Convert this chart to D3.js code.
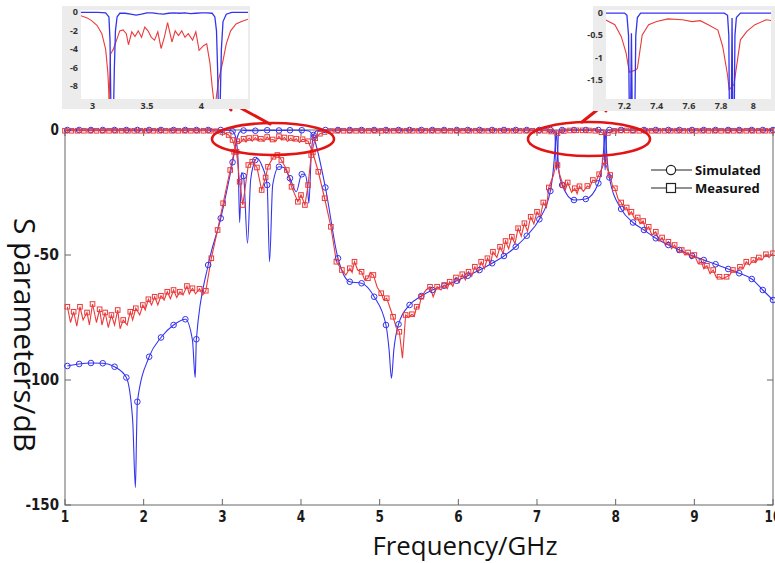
<!DOCTYPE html>
<html>
<head>
<meta charset="utf-8">
<script src="https://cdn.jsdelivr.net/npm/d3@7"></script>
<style>
  body { margin: 0; background: #fff; }
  svg { display: block; }
</style>
</head>
<body>
<script>
// ---- data: [frequency GHz, dB] ----
const xTicks = [1, 2, 3, 4, 5, 6, 7, 8, 9, 10];
const yTicks = [0, -50, -100, -150];

// simulated S11 (blue) – circle markers
const s11SimMarks = [
  [1.03,0],[1.18,0],[1.33,0],[1.48,0],[1.63,0],[1.78,0],[1.92,0],[2.07,0],[2.22,0],[2.38,0],
  [2.53,0],[2.67,0],[2.82,0],[2.98,0],[3.13,-0.5],[3.27,-18.4],[3.42,-12],[3.57,-22],[3.72,-14.7],[3.86,-19.3],
  [4.01,-17.7],[4.16,-2],[4.31,0],[4.47,0],[4.62,0],[4.77,0],[4.93,0],[5.08,0],[5.24,0],[5.38,0],
  [5.53,0],[5.67,0],[5.82,0],[5.98,0],[6.12,0],[6.27,0],[6.43,0],[6.58,0],[6.73,0],[6.87,0],
  [7.03,0],[7.17,0],[7.32,0],[7.47,0],[7.62,0],[7.78,0],[7.92,0],[8.07,0],[8.22,0],[8.36,0],
  [8.51,0],[8.67,0],[8.81,0],[8.97,0],[9.12,0],[9.27,0],[9.43,0],[9.57,0],[9.73,0],[9.87,0],[10,0]
];
const s11SimExtra = [
  [3.08,-0.1],[3.17,-3],[3.20,-12],[3.22,-37],[3.245,-17],[3.32,-45.3],[3.36,-20],[3.44,-11.3],[3.50,-14],
  [3.60,-52.7],[3.64,-22],[3.78,-15],[3.94,-24.7],[4.05,-17.7],[4.08,-22],[4.10,-29.3],[4.13,-10],[4.20,-0.3],
  [7.215,-0.1],[7.228,-1],[7.235,-8],[7.25,-16],[7.265,-8],[7.272,-1],[7.285,-0.1],
  [7.835,-0.1],[7.848,-1],[7.855,-8],[7.866,-16],[7.877,-8],[7.884,-1],[7.895,-0.1]
];

// simulated S21 (blue) – circle markers
const s21SimMarks = [
  [1.03,-94.4],[1.18,-93.6],[1.33,-93.2],[1.48,-93.3],[1.63,-94.7],[1.78,-99],[1.92,-108.7],[2.07,-90.7],[2.22,-83],[2.38,-78],
  [2.53,-75.7],[2.67,-83.7],[2.82,-54],[2.98,-35.3],[3.13,-12.9],[3.27,-0.2],[3.42,-0.3],[3.57,-0.1],[3.72,-0.2],[3.86,-0.1],
  [4.01,-0.1],[4.16,-3],[4.31,-23],[4.47,-51.3],[4.62,-60.7],[4.77,-61.3],[4.93,-66.7],[5.08,-78],[5.24,-77.7],[5.38,-70],
  [5.53,-66.4],[5.67,-64],[5.82,-62.3],[5.98,-60.3],[6.12,-58.3],[6.27,-56],[6.43,-53.3],[6.58,-50.4],[6.73,-46.7],[6.87,-42.3],
  [7.03,-35.7],[7.17,-24.4],[7.32,-22],[7.47,-28],[7.62,-27.6],[7.78,-21.3],[7.92,-19],[8.07,-31.6],[8.22,-37],[8.36,-40],
  [8.51,-43.3],[8.67,-46],[8.81,-48],[8.97,-50.3],[9.12,-52],[9.27,-53.7],[9.43,-55.6],[9.57,-57.3],[9.73,-59.6],[9.87,-64],[10,-68]
];
const s21SimExtra = [
  [1.86,-116],[1.895,-143],[1.91,-121],[2.62,-84],[2.655,-99],[3.19,-3],[3.22,-0.8],[4.10,-0.4],[4.13,-1.2],
  [5.12,-88],[5.15,-99.3],[5.18,-88],
  [7.21,-15],[7.235,-5],[7.245,-0.3],[7.255,-5],[7.28,-17],
  [7.835,-12],[7.857,-4],[7.866,-0.1],[7.875,-4],[7.895,-13]
];

// measured S11 (red) – square markers
const s11MeasMarks = [
  [1.00,-0.3],[1.08,-0.3],[1.16,-0.3],[1.24,-0.3],[1.32,-0.3],[1.40,-0.3],[1.48,-0.3],[1.56,-0.3],[1.64,-0.3],[1.72,-0.3],
  [1.80,-0.3],[1.88,-0.3],[1.96,-0.3],[2.04,-0.3],[2.12,-0.3],[2.20,-0.3],[2.28,-0.3],[2.36,-0.3],[2.44,-0.3],[2.52,-0.3],
  [2.60,-0.3],[2.68,-0.3],[2.76,-0.3],[2.84,-0.3],[2.92,-0.5],[3.00,-0.8],[3.08,-2],[3.13,-4],[3.18,-8.7],[3.22,-20.7],
  [3.26,-30],[3.33,-14],[3.38,-12.7],[3.44,-15],[3.50,-24],[3.55,-19],[3.58,-14.7],[3.65,-10.7],[3.70,-10],[3.75,-12],
  [3.82,-16],[3.88,-22.7],[3.96,-28.7],[4.00,-26],[4.05,-30],[4.09,-22],[4.13,-10],[4.18,-3.3],[4.24,-1.5],[4.30,-0.8],
  [4.38,-0.4],[4.46,-0.3],[4.54,-0.3],[4.62,-0.3],[4.70,-0.3],[4.78,-0.3],[4.86,-0.3],[4.94,-0.3],[5.02,-0.3],[5.10,-0.3],
  [5.18,-0.3],[5.26,-0.3],[5.34,-0.3],[5.42,-0.3],[5.50,-0.3],[5.58,-0.3],[5.66,-0.3],[5.74,-0.3],[5.82,-0.3],[5.90,-0.3],
  [5.98,-0.3],[6.06,-0.3],[6.14,-0.3],[6.22,-0.3],[6.30,-0.3],[6.38,-0.3],[6.46,-0.3],[6.54,-0.3],[6.62,-0.3],[6.70,-0.3],
  [6.78,-0.3],[6.86,-0.3],[6.94,-0.3],[7.02,-0.3],[7.10,-0.3],[7.18,-0.6],[7.26,-1.3],[7.34,-0.4],[7.42,-0.2],[7.50,-0.15],
  [7.58,-0.15],[7.66,-0.2],[7.74,-0.3],[7.82,-0.9],[7.90,-1.2],[7.98,-0.35],[8.06,-0.2],[8.14,-0.2],[8.22,-0.3],[8.30,-0.3],
  [8.38,-0.3],[8.46,-0.3],[8.54,-0.3],[8.62,-0.3],[8.70,-0.3],[8.78,-0.3],[8.86,-0.3],[8.94,-0.3],[9.02,-0.3],[9.10,-0.3],
  [9.18,-0.3],[9.26,-0.3],[9.34,-0.3],[9.42,-0.3],[9.50,-0.3],[9.58,-0.3],[9.66,-0.3],[9.74,-0.3],[9.82,-0.3],[9.90,-0.3],[9.98,-0.3]
];
const s11MeasExtra = [[7.85,-1.7]];

// measured S21 (red) – square markers
const s21MeasMarks = [
  [1.03,-70.7],[1.11,-72.7],[1.19,-70.7],[1.28,-73],[1.35,-69.6],[1.44,-71.7],[1.51,-73],[1.59,-74],[1.67,-72],[1.74,-76],
  [1.83,-72.7],[1.90,-71.3],[1.99,-70],[2.06,-67.7],[2.14,-66.7],[2.22,-66.3],[2.30,-64.7],[2.38,-64],[2.46,-64.7],[2.55,-62.4],
  [2.62,-63.3],[2.71,-63.5],[2.79,-64.3],[2.86,-51.3],[2.94,-40],[3.01,-29.3],[3.10,-16],[3.15,-8.7],[3.19,-4.5],[3.27,-3.5],
  [3.34,-3.2],[3.42,-3],[3.49,-3.5],[3.57,-2.8],[3.64,-3.8],[3.72,-2.5],[3.79,-3],[3.87,-3.2],[3.94,-3.5],[4.02,-3.7],
  [4.09,-4.5],[4.15,-9],[4.22,-16.7],[4.30,-27.3],[4.38,-38.7],[4.45,-52.7],[4.52,-56],[4.62,-55.3],[4.68,-52.7],[4.77,-56.7],
  [4.85,-59.3],[4.92,-58],[5.02,-65.3],[5.09,-67.3],[5.17,-74.7],[5.25,-80.7],[5.33,-74],[5.41,-73.7],[5.47,-70.7],[5.53,-66.7],
  [5.64,-62.7],[5.73,-62.7],[5.82,-62],[5.89,-60.7],[5.97,-59],[6.05,-57.7],[6.13,-56.7],[6.21,-54.7],[6.29,-52.7],[6.37,-51.3],
  [6.44,-48.7],[6.53,-46.7],[6.60,-44.4],[6.68,-42.7],[6.76,-39.3],[6.84,-37.3],[6.92,-34.7],[7.00,-32.7],[7.08,-29],[7.15,-23],
  [7.26,-14],[7.33,-22],[7.39,-21],[7.48,-23.3],[7.54,-22.5],[7.64,-22.4],[7.71,-20],[7.79,-17.7],[7.86,-12.5],[7.93,-18],
  [7.99,-23.3],[8.07,-29],[8.14,-31],[8.20,-32.7],[8.28,-35],[8.35,-36.4],[8.42,-38.7],[8.51,-40.7],[8.59,-43],[8.67,-44.7],
  [8.75,-46],[8.84,-48],[8.92,-49],[9.00,-50],[9.09,-52.7],[9.16,-54.3],[9.24,-56],[9.32,-58.7],[9.41,-58.7],[9.49,-56],
  [9.58,-54.7],[9.66,-52.7],[9.75,-52],[9.82,-51],[9.91,-49.7],[10,-49.3]
];
const s21MeasExtra = [
  [1.07,-77],[1.15,-78.5],[1.23,-76],[1.31,-78],[1.40,-77],[1.47,-78],[1.55,-79],[1.63,-78],[1.70,-79.5],[1.79,-78],
  [1.86,-76],[1.95,-74],[2.02,-72],[2.10,-70],[2.18,-70],[2.26,-68],[2.34,-67.5],[2.42,-67],[2.50,-66],[2.58,-65.5],
  [2.66,-65.5],[2.75,-66],[3.23,-5],[3.30,-4.8],[3.38,-4.5],[3.45,-4.2],[3.53,-4.6],[3.60,-4],[3.68,-4.5],[3.75,-4],
  [3.83,-4.6],[3.90,-4.4],[3.98,-5],[4.57,-58],[4.65,-57],[4.72,-56],[4.81,-60],[4.88,-57],[4.97,-63],[5.05,-68],
  [5.13,-71],[5.21,-79],[5.29,-91.3],[5.37,-75],[5.44,-74.5],[5.50,-71],[5.59,-64],[5.68,-66.7],[5.78,-64],[5.86,-63.5],
  [5.93,-62.5],[6.01,-61],[6.09,-60],[6.17,-58.5],[6.25,-57],[6.33,-55.5],[6.41,-53.5],[6.49,-51],[6.57,-49.5],[6.64,-47.5],
  [6.72,-45.5],[6.80,-42.5],[6.88,-40.5],[6.96,-37.5],[7.04,-35],[7.12,-31],[7.21,-18],[7.25,-12.5],[7.29,-18],[7.36,-24],
  [7.44,-25],[7.51,-25.5],[7.59,-24.5],[7.67,-23],[7.75,-20.5],[7.83,-15],[7.90,-16],[7.96,-22.5],[8.03,-27.5],[8.11,-31.5],
  [8.17,-34],[8.24,-35.5],[8.31,-37.5],[8.38,-40],[8.46,-42],[8.55,-44.5],[8.63,-46],[8.71,-47.5],[8.79,-49],[8.88,-50],
  [8.96,-51.5],[9.05,-53.5],[9.12,-55.5],[9.20,-57.5],[9.28,-59],[9.36,-59.5],[9.45,-58],[9.53,-57],[9.62,-55.5],[9.70,-54],
  [9.78,-53],[9.86,-52],[9.95,-51]
];

// zoom inset 1 (passband 2.9 - 4.4 GHz)
const in1XTicks = [3, 3.5, 4];
const in1YTicks = [0, -2, -4, -6, -8];
const in1SimS11 = [[2.89,0],[3.05,0],[3.12,-0.05],[3.15,-0.5],[3.16,-3],[3.17,-12],[4.17,-12],[4.185,-4],[4.2,-1],[4.23,-0.2],[4.28,0],[4.43,0]];
const in1SimS21 = [
  [3.19,-12],[3.20,-6],[3.21,-2],[3.225,-0.5],[3.25,-0.1],[3.30,-0.1],[3.35,-0.2],[3.40,-0.3],[3.45,-0.2],[3.50,-0.05],
  [3.55,-0.05],[3.60,-0.15],[3.65,-0.2],[3.70,-0.1],[3.75,-0.05],[3.80,-0.1],[3.85,-0.05],[3.90,-0.15],[3.95,-0.1],[4.00,-0.05],
  [4.05,-0.05],[4.10,-0.1],[4.125,-0.5],[4.14,-2],[4.15,-6],[4.16,-12]
];
const in1MeasS11 = [
  [2.89,-0.36],[2.95,-0.6],[2.99,-0.9],[3.04,-1.4],[3.085,-2.3],[3.12,-4],[3.14,-6.5],[3.155,-10],
  [4.13,-10],[4.14,-9],[4.16,-7.3],[4.20,-5.2],[4.23,-3.4],[4.27,-2],[4.32,-1.25],[4.37,-1],[4.43,-0.75]
];
const in1MeasS21 = [
  [3.15,-10],[3.165,-4.5],[3.19,-4],[3.22,-3],[3.25,-2],[3.28,-1.9],[3.31,-2.3],[3.33,-3.5],[3.36,-2.1],[3.39,-2.6],
  [3.42,-2],[3.45,-2.7],[3.48,-1.6],[3.51,-2],[3.54,-2.7],[3.57,-3],[3.60,-2.1],[3.63,-3.9],[3.66,-2.7],[3.69,-1.1],
  [3.73,-3.2],[3.76,-2],[3.79,-2.5],[3.82,-2],[3.85,-2.7],[3.88,-2.3],[3.92,-3],[3.95,-2.1],[3.98,-4.1],[4.02,-3.6],
  [4.05,-3.4],[4.08,-5.5],[4.10,-8],[4.12,-10]
];

// zoom inset 2 (7.1 - 8.1 GHz)
const in2XTicks = [7.2, 7.4, 7.6, 7.8, 8];
const in2YTicks = [0, -0.5, -1, -1.5];
const in2SimS11 = [
  [7.08,0],[7.20,0],[7.215,-0.05],[7.225,-0.5],[7.232,-3],[7.262,-3],[7.27,-0.5],[7.28,-0.1],[7.30,0],
  [7.82,0],[7.84,-0.05],[7.848,-0.5],[7.853,-3],[7.88,-3],[7.886,-0.5],[7.895,-0.1],[7.92,0],[8.12,0]
];
const in2SimS21 = [[7.236,-3],[7.243,-0.45],[7.25,-3]];
const in2SimS21b = [[7.862,-3],[7.868,-0.11],[7.874,-3]];
const in2MeasS11 = [
  [7.08,-0.15],[7.14,-0.26],[7.18,-0.53],[7.21,-0.9],[7.23,-1.33],[7.27,-1.28],[7.28,-1.24],[7.31,-0.49],[7.35,-0.26],[7.40,-0.19],
  [7.47,-0.13],[7.56,-0.15],[7.62,-0.19],[7.67,-0.17],[7.72,-0.26],[7.78,-0.38],[7.81,-0.75],[7.84,-1.39],[7.85,-1.72],[7.88,-1.61],
  [7.89,-1.35],[7.92,-0.6],[7.96,-0.41],[8.01,-0.26],[8.08,-0.15],[8.12,-0.17]
];

// ---- drawing ----
const W = 775, H = 563;
const BLUE = '#3434ee', RED = '#ea3a3a', ANNOT = '#e31414';
const tickFont = "'Liberation Sans Narrow','Arial Narrow','DejaVu Sans Condensed','Liberation Sans',sans-serif";

const svg = d3.select('body').append('svg').attr('width', W).attr('height', H)
  .style('font-family', 'Open Sans, sans-serif');

const x = d3.scaleLinear().domain([1, 10]).range([65, 773]);
const y = d3.scaleLinear().domain([-150, 0]).range([505, 130]);

const merge = (a, b) => a.concat(b).sort((p, q) => p[0] - q[0]);

const defs = svg.append('defs');
defs.append('clipPath').attr('id', 'mainClip')
  .append('rect').attr('x', 65).attr('y', 127).attr('width', 708).attr('height', 378);

// axis box and ticks
const axG = svg.append('g');
axG.append('rect').attr('x', 65).attr('y', 130).attr('width', 708).attr('height', 375)
  .attr('fill', 'none').attr('stroke', '#666').attr('stroke-width', 1);

// tick labels are narrow bold numerals in the reference
const tickLabel = (sel) => sel
  .style('font-family', tickFont).style('font-weight', 'bold').style('font-size', '16px').attr('fill', '#1a1a1a')
  .attr('textLength', d => String(d).length * 8.4).attr('lengthAdjust', 'spacingAndGlyphs');

axG.selectAll('.xt').data(xTicks).join('g').each(function(d) {
  const g = d3.select(this);
  g.append('line').attr('x1', x(d)).attr('x2', x(d)).attr('y1', 505).attr('y2', 499).attr('stroke', '#666');
  g.append('line').attr('x1', x(d)).attr('x2', x(d)).attr('y1', 130).attr('y2', 136).attr('stroke', '#666');
  g.append('text').datum(d).attr('x', x(d)).attr('y', 522).attr('text-anchor', 'middle').call(tickLabel).text(d);
});
axG.selectAll('.yt').data(yTicks).join('g').each(function(d) {
  const g = d3.select(this);
  g.append('line').attr('x1', 65).attr('x2', 71).attr('y1', y(d)).attr('y2', y(d)).attr('stroke', '#666');
  g.append('line').attr('x1', 773).attr('x2', 767).attr('y1', y(d)).attr('y2', y(d)).attr('stroke', '#666');
  g.append('text').datum(d).attr('x', 59).attr('y', y(d) + 5).attr('text-anchor', 'end').call(tickLabel).text(d);
});

// axis titles
svg.append('text').attr('x', 465).attr('y', 555).attr('text-anchor', 'middle')
  .style('font-size', '25px').attr('fill', '#111')
  .attr('textLength', 185).attr('lengthAdjust', 'spacingAndGlyphs')
  .text('Frequency/GHz');
svg.append('text').attr('transform', 'translate(14,335) rotate(90)').attr('text-anchor', 'middle')
  .style('font-size', '30px').attr('fill', '#111')
  .attr('textLength', 234).attr('lengthAdjust', 'spacingAndGlyphs')
  .text('S parameters/dB');

// series
const smooth = d3.line().x(d => x(d[0])).y(d => y(d[1])).curve(d3.curveMonotoneX);
const straight = d3.line().x(d => x(d[0])).y(d => y(d[1]));
const plotG = svg.append('g').attr('clip-path', 'url(#mainClip)');

[[s11SimMarks, s11SimExtra], [s21SimMarks, s21SimExtra]].forEach(([m, e]) => {
  plotG.append('path').attr('d', smooth(merge(m, e)))
    .attr('fill', 'none').attr('stroke', BLUE).attr('stroke-width', 1.1);
});
[[s11MeasMarks, s11MeasExtra], [s21MeasMarks, s21MeasExtra]].forEach(([m, e]) => {
  plotG.append('path').attr('d', straight(merge(m, e)))
    .attr('fill', 'none').attr('stroke', RED).attr('stroke-width', 1.1);
});
[s11SimMarks, s21SimMarks].forEach(m => {
  svg.append('g').selectAll('circle').data(m).join('circle')
    .attr('cx', d => x(d[0])).attr('cy', d => y(d[1])).attr('r', 2.8)
    .attr('fill', 'none').attr('stroke', BLUE).attr('stroke-width', 1);
});
[s11MeasMarks, s21MeasMarks].forEach(m => {
  svg.append('g').selectAll('rect').data(m).join('rect')
    .attr('x', d => x(d[0]) - 2.3).attr('y', d => y(d[1]) - 2.3).attr('width', 4.6).attr('height', 4.6)
    .attr('fill', 'none').attr('stroke', RED).attr('stroke-width', 1);
});

// legend
const leg = svg.append('g');
[['Simulated', 170, 'circle'], ['Measured', 188, 'square']].forEach(([label, ly, shape]) => {
  leg.append('line').attr('x1', 651).attr('x2', 692).attr('y1', ly).attr('y2', ly).attr('stroke', '#222');
  if (shape === 'circle') {
    leg.append('circle').attr('cx', 671).attr('cy', ly).attr('r', 4.6).attr('fill', '#fff').attr('stroke', '#222').attr('stroke-width', 1.2);
  } else {
    leg.append('rect').attr('x', 666.5).attr('y', ly - 4.5).attr('width', 9).attr('height', 9).attr('fill', '#fff').attr('stroke', '#222').attr('stroke-width', 1.2);
  }
  leg.append('text').attr('x', 695).attr('y', ly + 5).style('font-size', '13px').style('font-weight', 'bold')
    .attr('fill', '#111').text(label);
});

// annotations: ellipses and arrows
[[273, 139, 61, 16], [589, 139, 61, 17]].forEach(([cx, cy, rx, ry]) => {
  svg.append('ellipse').attr('cx', cx).attr('cy', cy).attr('rx', rx).attr('ry', ry)
    .attr('fill', 'none').attr('stroke', ANNOT).attr('stroke-width', 2.6);
});
function arrow(x0, y0, x1, y1) {
  const a = Math.atan2(y1 - y0, x1 - x0), L = 13, s = 0.5;
  const g = svg.append('g').attr('stroke', ANNOT).attr('stroke-width', 3).attr('fill', 'none')
    .attr('stroke-linecap', 'round').attr('stroke-linejoin', 'round');
  g.append('line').attr('x1', x0).attr('y1', y0).attr('x2', x1).attr('y2', y1);
  g.append('path').attr('d', `M${x1 - L * Math.cos(a - s)},${y1 - L * Math.sin(a - s)}L${x1},${y1}L${x1 - L * Math.cos(a + s)},${y1 - L * Math.sin(a + s)}`);
}
arrow(270, 124, 224, 99);
arrow(582, 122, 611, 99);

// insets
function inset(cfg) {
  const g = svg.append('g');
  g.append('rect').attr('x', cfg.outer[0]).attr('y', cfg.outer[1]).attr('width', cfg.outer[2]).attr('height', cfg.outer[3]).attr('fill', '#ececec');
  const [px0, py0, px1, py1] = cfg.plot;
  g.append('rect').attr('x', px0).attr('y', py0).attr('width', px1 - px0).attr('height', py1 - py0).attr('fill', '#fff');
  const ix = d3.scaleLinear().domain(cfg.xd).range([px0, px1]);
  const iy = d3.scaleLinear().domain(cfg.yd).range([py1, py0]);
  defs.append('clipPath').attr('id', cfg.id).append('rect')
    .attr('x', px0).attr('y', py0).attr('width', px1 - px0).attr('height', py1 - py0);
  const ln = d3.line().x(d => ix(d[0])).y(d => iy(d[1]));
  const cg = g.append('g').attr('clip-path', `url(#${cfg.id})`);
  cfg.red.forEach(s => cg.append('path').attr('d', ln(s)).attr('fill', 'none').attr('stroke', RED).attr('stroke-width', 1.1));
  cfg.blue.forEach(s => cg.append('path').attr('d', ln(s)).attr('fill', 'none').attr('stroke', BLUE).attr('stroke-width', 1.3));
  g.selectAll('.ixt').data(cfg.xt).join('text').attr('x', d => ix(d)).attr('y', py1 + 10)
    .attr('text-anchor', 'middle').style('font-size', '9px').style('font-weight', 'bold').attr('fill', '#333').text(d => d);
  g.selectAll('.iyt').data(cfg.yt).join('text').attr('x', px0 - 3).attr('y', d => iy(d) + 3)
    .attr('text-anchor', 'end').style('font-size', '9px').style('font-weight', 'bold').attr('fill', '#333').text(d => d);
}
inset({ id: 'in1', outer: [62, 6, 188, 103], plot: [81, 10, 248, 99], xd: [2.893, 4.43], yd: [-9.35, 0.25],
  xt: in1XTicks, yt: in1YTicks, red: [in1MeasS11, in1MeasS21], blue: [in1SimS11, in1SimS21] });
inset({ id: 'in2', outer: [593, 6, 182, 105], plot: [606, 10, 771, 99], xd: [7.085, 8.11], yd: [-1.93, 0.07],
  xt: in2XTicks, yt: in2YTicks, red: [in2MeasS11], blue: [in2SimS11, in2SimS21, in2SimS21b] });
</script>
</body>
</html>
